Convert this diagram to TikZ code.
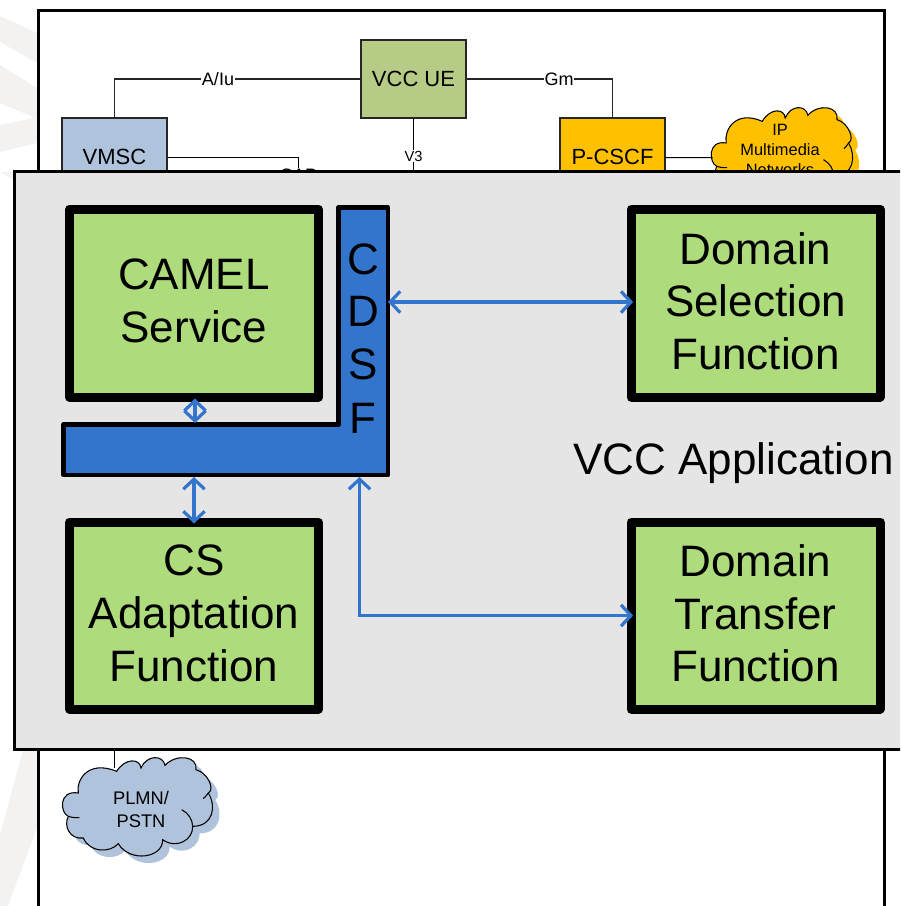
\documentclass[tikz,border=0pt]{standalone}
\usepackage{fontspec}
\setmainfont{Liberation Sans}
\usetikzlibrary{arrows.meta}
\definecolor{ueGreen}{HTML}{B6CB86}
\definecolor{mscBlue}{HTML}{B0C3DC}
\definecolor{cscfGold}{HTML}{FFC000}
\definecolor{funcGreen}{HTML}{AEDB7B}
\definecolor{panelGray}{HTML}{E5E5E5}
\definecolor{cdsfBlue}{HTML}{3374CC}
\definecolor{markGray}{HTML}{F3F2F1}
\newcommand{\cloudpath}{
  (235,280) .. controls (228,240) and (265,180) .. (350,215)
  .. controls (375,175) and (420,175) .. (423,205)
  .. controls (440,165) and (490,165) .. (495,197)
  .. controls (530,160) and (595,170) .. (588,210)
  .. controls (625,220) and (645,270) .. (625,280)
  .. controls (650,320) and (640,380) .. (578,380)
  .. controls (580,420) and (530,450) .. (488,420)
  .. controls (490,475) and (390,490) .. (355,432)
  .. controls (330,460) and (270,460) .. (250,415)
  .. controls (210,420) and (190,380) .. (205,350)
  .. controls (180,340) and (175,270) .. (235,280) -- cycle}
\newcommand{\cloudticks}{
  (238,354) .. controls (222,355) and (212,352) .. (205,350)
  (545,330) .. controls (565,340) and (578,360) .. (578,380)
  (625,280) .. controls (620,288) and (615,292) .. (610,297)}
\tikzset{
  x=0.75pt,y=-0.75pt,
  line/.style={draw=black!85,line width=0.95pt},
  thinline/.style={draw=black,line width=0.75pt},
  netbox/.style={draw=black!85,line width=1pt,minimum width=78.75pt,minimum height=58.5pt,inner sep=0pt,font=\fontsize{16.5}{19}\selectfont},
  funcbox/.style={draw=black,fill=funcGreen,line width=6.75pt,line join=round,minimum width=186.75pt,inner sep=0pt},
  funclabel/.style={align=center,inner sep=0pt,yshift=1.6pt,font=\fontsize{33}{39.4}\selectfont},
  lbl/.style={inner sep=0.5pt,fill=white,font=\fontsize{13.5}{16}\selectfont},
  cloudtext/.style={align=center,inner sep=0pt},
  biglabel/.style={inner sep=0pt,font=\fontsize{33}{39.4}\selectfont},
  link/.style={draw=cdsfBlue,line width=2.4pt,{Straight Barb[length=7.5pt,width=16pt,line width=2.4pt]}-{Straight Barb[length=7.5pt,width=16pt,line width=2.4pt]}},
}
\begin{document}
\begin{tikzpicture}
\useasboundingbox (0,0) rectangle (900,906);
\begin{scope}
\clip (0,0) rectangle (900,906);
% watermark
\fill[markGray] (0,16) -- (37,33) -- (37,63) -- (0,42) -- cycle;
\fill[markGray] (0,65) -- (37,88) -- (37,120) -- (33,117) -- (0,103) -- cycle;
\fill[markGray] (0,125) -- (33,118) -- (37,120) -- (37,143) -- (0,152) -- cycle;
\fill[markGray] (0,172) -- (14,172) -- (14,180) -- cycle;
\fill[markGray] (23,750) -- (37,750) -- (37,828) -- (8,906) -- (0,906) -- (0,835) -- cycle;
% outer frame
\draw[black,line width=2pt] (38.5,950) -- (38.5,10.5) -- (884.5,10.5) -- (884.5,950);
% network nodes
\node[netbox,fill=ueGreen] (ue) at (413.5,79) {VCC UE};
\node[netbox,fill=mscBlue] (vmsc) at (114.5,157) {VMSC};
\node[netbox,fill=cscfGold] (cscf) at (612.5,157) {P-CSCF};
\coordinate (vccapp) at (413.5,300);
% connectors
\node[lbl] (aiu) at (218,79) {A/Iu};
\node[lbl] (gm) at (559,79) {Gm};
\node[lbl] (cap) at (298.5,175.5) {CAP};
\node[lbl,font=\fontsize{11}{13}\selectfont] (v3) at (413.5,156) {V3};
\draw[line] (ue.west) -- (aiu.east);
\draw[line] (aiu.west) -| (vmsc.north);
\draw[line] (ue.east) -- (gm.west);
\draw[line] (gm.east) -| (cscf.north);
\draw[thinline] (ue.south) -- (v3.north);
\draw[thinline] (v3.south) -- (vccapp);
\draw[thinline] ([yshift=-0.38pt]vmsc.east) -| (cap.north);
% clouds
\begin{scope}[shift={(63.3,757)},x=0.25pt,y=-0.25pt,shift={(-190,-172)}]
  \fill[mscBlue] [shift={(21,21)}] \cloudpath;
\end{scope}
\begin{scope}[shift={(63.3,757)},x=0.25pt,y=-0.25pt,shift={(-190,-172)}]
  \draw[black,line width=0.8pt,fill=mscBlue] \cloudpath;
  \draw[black,line width=0.8pt] \cloudticks;
\end{scope}
\begin{scope}[shift={(712,107)},x=0.2356pt,y=-0.25pt,shift={(-190,-172)}]
  \fill[cscfGold] [shift={(21,21)}] \cloudpath;
\end{scope}
\begin{scope}[shift={(712,107)},x=0.2356pt,y=-0.25pt,shift={(-190,-172)}]
  \draw[black,line width=0.8pt,fill=cscfGold] \cloudpath;
  \draw[black,line width=0.8pt] \cloudticks;
\end{scope}
\node[cloudtext,font=\fontsize{12.3}{15}\selectfont] (ipnet) at (780,150) {IP\\Multimedia\\Networks};
\node[cloudtext,font=\fontsize{13.7}{17}\selectfont] (plmn) at (141,809.5) {PLMN/\\PSTN};
\coordinate (plmntop) at (114.5,768);
\coordinate (ipleft) at (712.5,157.5);
\draw[thinline] ([yshift=-0.38pt]cscf.east) -- (ipleft);
\draw[thinline] (vmsc.south) -- (plmntop);
% application panel
\draw[black,line width=2.25pt,fill=panelGray] (950,171.5) -- (14.5,171.5) -- (14.5,749) -- (950,749);
% CDSF
\draw[black,line width=3.6pt,fill=cdsfBlue,line join=round]
  (338.5,207.5) -- (388,207.5) -- (388,475) -- (63.5,475) -- (63.5,424.5) -- (338.5,424.5) -- cycle;
\coordinate (cdsfright) at (388,302);
\coordinate (cdsfupper) at (195,423);
\coordinate (cdsflower) at (194,477);
\coordinate (cdsfcorner) at (359.5,477);
\node[biglabel] (lc) at (363,259) {C};
\node[biglabel] (ld) at (363,311.5) {D};
\node[biglabel] (ls) at (363,364) {S};
\node[biglabel] (lf) at (363,418.5) {F};
% function boxes
\node[funcbox,minimum height=141pt,label={[funclabel]center:CAMEL\\Service}] (camel) at (194,303) {};
\node[funcbox,minimum height=140.25pt,label={[funclabel]center:CS\\Adaptation\\Function}] (csaf) at (194,615.5) {};
\node[funcbox,minimum height=141pt,label={[funclabel]center:Domain\\Selection\\Function}] (dsf) at (755.5,303) {};
\node[funcbox,minimum height=140.25pt,label={[funclabel]center:Domain\\Transfer\\Function}] (dtf) at (755.5,615.5) {};
\node[biglabel] (vcclabel) at (733.5,463) {VCC Application};
% links
\draw[link,shorten >=-5pt] (cdsfright) -- (dsf.west |- cdsfright);
\draw[link,shorten >=-5pt] (cdsfcorner) |- (dtf.west);
\draw[link,shorten <=-2.25pt] (camel.south -| cdsfupper) -- (cdsfupper);
\draw[link,shorten >=-4.5pt] (cdsflower) -- (csaf.north);
\end{scope}
\end{tikzpicture}
\end{document}
